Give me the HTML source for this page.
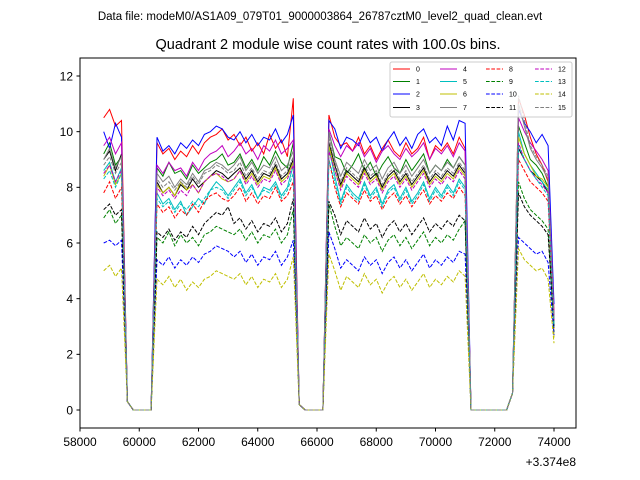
<!DOCTYPE html>
<html><head><meta charset="utf-8"><style>
body{margin:0;background:#fff;}
svg{font-family:"Liberation Sans",sans-serif;display:block;}
</style></head><body>
<svg id="chart" width="640" height="480" viewBox="0 0 640 480">
<rect width="640" height="480" fill="#fff"/>
<text x="320" y="20" font-size="11.5" text-anchor="middle">Data file: modeM0/AS1A09_079T01_9000003864_26787cztM0_level2_quad_clean.evt</text>
<text x="328" y="49" font-size="14.5" text-anchor="middle">Quadrant 2 module wise count rates with 100.0s bins.</text>
<g id="series"></g>
<rect x="80" y="58" width="496" height="370" fill="none" stroke="#000" stroke-width="1"/>
<g id="axes"></g>
<text x="576" y="466" font-size="12" text-anchor="end">+3.374e8</text>
<g id="legend"></g>
</svg>
<script>
const times=[];for(let t=58800;t<=74000;t+=200)times.push(t);
const xTicks=[58000,60000,62000,64000,66000,68000,70000,72000,74000];
const yTicks=[0,2,4,6,8,10,12];
const G1=[0.3,0,0,0,0],G2=[0.2,0,0,0,0],G3=[0,0,0,0,0,0,0,0.6];
const s0=[10.5,10.8,10.2,10.4,...G1,9.6,9.2,9.4,9.0,9.3,9.1,9.5,9.2,9.6,9.8,9.9,10.1,9.7,9.9,9.5,9.8,9.3,9.6,9.2,9.9,9.4,9.7,9.1,11.2,...G2,10.6,9.8,9.5,9.6,9.3,9.8,9.2,9.5,9.0,9.4,9.7,9.3,9.1,9.6,9.2,9.4,9.8,9.0,9.5,9.3,9.6,9.2,9.8,9.4,...G3,11.2,10.6,9.8,9.2,8.8,8.2,3.5];
const s1=[9.2,9.6,8.8,9.1,...G1,8.7,8.4,8.9,8.5,8.6,8.3,8.8,8.5,8.7,8.9,9.0,9.2,8.8,8.9,9.2,8.7,9.0,8.6,9.1,8.8,9.3,8.9,8.7,9.6,...G2,10.0,9.1,9.0,8.5,8.8,9.2,8.6,8.9,8.4,8.8,9.1,8.7,8.5,9.0,8.6,8.9,9.2,8.5,8.8,8.6,9.0,8.7,9.1,8.8,...G3,10.2,9.6,9.0,8.8,8.5,8.0,3.2];
const s2=[10.0,9.4,10.3,9.8,...G1,9.8,9.3,9.5,9.2,9.6,9.4,9.7,9.5,9.9,10.0,10.2,10.1,9.8,9.7,10.0,9.6,9.9,9.5,9.8,9.7,10.1,9.6,9.9,10.6,...G2,10.4,10.1,9.4,9.8,9.7,9.5,10.0,9.6,9.8,9.3,9.7,10.0,9.5,9.8,9.4,9.9,10.1,9.6,9.8,9.5,10.2,9.7,10.4,10.3,...G3,10.8,10.3,10.0,9.6,9.9,9.5,3.8];
const s3=[9.0,9.3,8.6,9.2,...G1,8.2,7.8,8.0,7.7,8.1,7.9,8.3,8.0,8.2,8.4,8.6,8.5,8.3,8.5,8.7,8.3,8.6,8.2,8.5,8.4,8.8,8.3,8.5,9.0,...G2,9.6,8.8,8.1,8.6,8.4,8.2,8.7,8.3,8.5,8.0,8.4,8.6,8.2,8.5,8.1,8.4,8.7,8.2,8.5,8.3,8.6,8.4,8.8,8.5,...G3,9.4,9.0,8.6,8.4,8.2,7.8,3.0];
const s4=[9.5,9.8,9.2,9.6,...G1,8.8,8.5,8.9,8.6,8.7,8.4,8.9,8.6,9.0,9.2,9.3,9.5,9.1,9.3,9.6,9.2,9.4,9.0,9.5,9.3,9.7,9.2,9.4,9.7,...G2,10.1,9.5,9.1,9.5,9.3,9.6,9.1,9.4,8.9,9.3,9.5,9.2,9.0,9.4,9.1,9.3,9.6,9.0,9.4,9.2,9.5,9.1,9.6,9.3,...G3,10.5,10.0,9.6,9.3,9.0,8.6,3.4];
const s5=[8.6,8.9,8.2,8.7,...G1,7.8,7.4,7.6,7.2,7.5,7.0,7.3,7.6,7.4,7.9,8.2,8.0,7.7,8.0,8.3,7.8,8.1,7.6,8.0,7.9,8.2,7.7,8.0,8.8,...G2,9.4,8.4,7.5,8.1,7.8,7.6,8.2,7.7,8.0,7.4,7.9,8.1,7.6,8.0,7.5,7.8,8.2,7.6,8.0,7.7,8.1,7.8,8.3,8.0,...G3,10.0,9.2,8.8,8.5,8.2,7.9,3.1];
const s6=[8.4,8.8,8.1,8.5,...G1,8.1,7.8,8.0,7.7,8.2,7.9,8.1,7.8,8.2,8.4,8.5,8.3,8.2,8.3,8.6,8.2,8.5,8.1,8.4,8.3,8.7,8.2,8.4,8.9,...G2,9.5,8.6,8.0,8.5,8.3,8.1,8.6,8.2,8.4,7.9,8.3,8.5,8.1,8.4,8.0,8.3,8.6,8.1,8.4,8.2,8.5,8.3,8.7,8.4,...G3,9.8,9.2,8.8,8.4,8.3,8.0,2.6];
const s7=[9.0,9.4,8.7,9.1,...G1,8.5,8.2,8.4,8.0,8.3,8.1,8.5,8.2,8.6,8.7,8.9,8.8,8.6,8.8,9.1,8.6,8.9,8.5,8.8,8.7,9.1,8.6,8.8,9.3,...G2,10.0,9.0,8.4,8.9,8.7,8.5,9.0,8.6,8.8,8.3,8.7,8.9,8.5,8.8,8.4,8.7,9.0,8.5,8.8,8.6,8.9,8.7,9.1,8.8,...G3,11.0,10.2,9.4,9.0,8.7,8.3,3.3];
const s8=[7.8,8.2,7.6,8.0,...G1,7.4,7.1,7.3,6.9,7.2,7.0,7.4,7.1,7.5,7.7,7.8,7.6,7.5,7.7,8.0,7.5,7.8,7.4,7.7,7.6,8.0,7.5,7.7,8.2,...G2,9.0,8.0,7.3,7.8,7.6,7.4,7.9,7.5,7.7,7.2,7.6,7.8,7.4,7.7,7.3,7.6,7.9,7.4,7.7,7.5,7.8,7.6,8.0,7.7,...G3,9.0,8.6,8.2,8.0,7.8,7.5,2.9];
const s9=[6.9,7.2,6.7,7.0,...G1,6.2,6.0,6.4,5.9,6.3,6.0,6.2,5.9,6.3,6.4,6.6,6.5,6.4,6.3,6.5,6.1,6.4,6.0,6.3,6.2,6.5,6.0,6.3,7.2,...G2,7.4,6.6,5.9,6.2,6.0,5.8,6.3,6.0,6.2,5.7,6.1,6.3,5.9,6.2,5.8,6.1,6.4,5.9,6.2,6.0,6.3,6.1,6.5,6.8,...G3,8.2,7.6,7.2,7.0,6.8,6.5,2.8];
const s10=[6.0,6.1,5.9,6.1,...G1,5.4,5.2,5.5,5.1,5.4,5.2,5.5,5.3,5.6,5.7,5.9,5.8,5.7,5.5,5.7,5.3,5.6,5.2,5.5,5.4,5.7,5.2,5.5,6.1,...G2,6.4,5.8,5.1,5.4,5.2,5.0,5.5,5.2,5.4,4.9,5.3,5.5,5.1,5.4,5.0,5.3,5.6,5.1,5.4,5.2,5.5,5.3,5.7,5.6,...G3,6.2,6.0,5.8,5.6,5.7,5.3,2.7];
const s11=[7.2,7.4,7.0,7.2,...G1,6.4,6.2,6.5,6.1,6.4,6.2,6.6,6.3,6.7,6.9,7.1,7.0,7.3,6.7,6.9,6.5,6.8,6.4,6.7,6.6,6.9,6.4,6.7,7.6,...G2,7.5,7.0,6.3,6.8,6.6,6.4,6.9,6.5,6.7,6.2,6.6,6.8,6.4,6.7,6.3,6.6,6.9,6.4,6.7,6.5,6.8,6.6,7.0,6.8,...G3,7.8,7.3,7.0,6.8,6.6,6.3,3.0];
const s12=[8.5,8.8,8.2,8.6,...G1,8.0,7.7,7.9,7.6,7.9,7.7,8.1,7.8,8.2,8.4,8.5,8.4,8.2,8.3,8.6,8.1,8.4,8.0,8.3,8.2,8.6,8.1,8.3,8.8,...G2,9.3,8.6,7.9,8.4,8.2,8.0,8.5,8.1,8.3,7.8,8.2,8.4,8.0,8.3,7.9,8.2,8.5,8.0,8.3,8.1,8.4,8.2,8.6,8.3,...G3,9.6,9.0,8.6,8.3,8.1,7.8,3.2];
const s13=[8.3,8.6,8.0,8.5,...G1,7.6,7.3,7.5,7.1,7.4,7.2,7.5,7.3,7.6,7.9,8.0,7.9,7.6,7.9,8.2,7.7,8.0,7.6,7.9,7.8,8.1,7.6,7.9,8.5,...G2,9.0,8.2,7.4,8.0,7.7,7.5,8.1,7.6,7.9,7.3,7.8,8.0,7.5,7.9,7.4,7.7,8.1,7.5,7.9,7.6,8.0,7.7,8.2,7.9,...G3,9.5,9.0,8.6,8.3,8.0,7.7,3.0];
const s14=[5.0,5.2,4.8,5.1,...G1,4.7,4.5,4.8,4.4,4.7,4.3,4.6,4.4,4.7,4.8,5.0,4.9,4.8,4.7,4.9,4.5,4.8,4.4,4.7,4.6,4.9,4.4,4.7,5.5,...G2,5.6,5.0,4.3,4.8,4.6,4.4,4.9,4.5,4.7,4.2,4.6,4.8,4.4,4.7,4.3,4.6,4.9,4.4,4.7,4.5,4.8,4.6,5.0,4.8,...G3,5.8,5.4,5.2,5.0,5.1,4.7,2.4];
const s15=[8.8,9.1,8.5,8.9,...G1,8.3,8.0,8.2,7.9,8.2,8.0,8.4,8.1,8.5,8.6,8.8,8.7,8.5,8.6,8.9,8.4,8.7,8.3,8.6,8.5,8.9,8.4,8.6,9.1,...G2,9.8,8.9,8.2,8.7,8.5,8.3,8.8,8.4,8.6,8.1,8.5,8.7,8.3,8.6,8.2,8.5,8.8,8.3,8.6,8.4,8.7,8.5,8.9,8.6,...G3,11.3,10.4,9.5,9.1,8.8,8.4,3.3];
const seriesData=[s0,s1,s2,s3,s4,s5,s6,s7,s8,s9,s10,s11,s12,s13,s14,s15];
const colors=['#ff0000','#008000','#0000ff','#000000','#bf00bf','#00bfbf','#bfbf00','#808080','#ff0000','#008000','#0000ff','#000000','#bf00bf','#00bfbf','#bfbf00','#808080'];
const NS='http://www.w3.org/2000/svg';
const xs=v=>80+(v-58000)*(474/16000);
const ys=v=>410-v*(334/12);
const sg=document.getElementById('series');
seriesData.forEach((d,k)=>{
  const p=document.createElementNS(NS,'path');
  p.setAttribute('d',d.map((v,i)=>(i?'L':'M')+xs(times[i]).toFixed(1)+','+ys(v).toFixed(1)).join(''));
  p.setAttribute('fill','none');p.setAttribute('stroke',colors[k]);p.setAttribute('stroke-width','1');
  if(k>=8)p.setAttribute('stroke-dasharray','3.7,1.6');
  
  
  sg.appendChild(p);
});
const ax=document.getElementById('axes');
function add(tag,attrs,txt){const e=document.createElementNS(NS,tag);for(const a in attrs)e.setAttribute(a,attrs[a]);if(txt!=null)e.textContent=txt;ax.appendChild(e);return e;}
xTicks.forEach(v=>{
  const l=add('line',{x1:xs(v),x2:xs(v),y1:428,y2:431.5,stroke:'#000'});
  
  
  const t=add('text',{x:xs(v),y:446,'font-size':12,'text-anchor':'middle'},v);
  
  
});
yTicks.forEach(v=>{
  const l=add('line',{x1:76.5,x2:80,y1:ys(v),y2:ys(v),stroke:'#000'});
  
  
  const t=add('text',{x:73,y:ys(v)+4.3,'font-size':12,'text-anchor':'end'},v);
  
  
});
const lg=document.getElementById('legend');
const box=document.createElementNS(NS,'rect');
box.setAttribute('x',390);box.setAttribute('y',62);box.setAttribute('width',182);box.setAttribute('height',55);box.setAttribute('rx',2);
box.setAttribute('fill','#fff');box.setAttribute('fill-opacity','0.8');box.setAttribute('stroke','#ccc');


lg.appendChild(box);
const colX=[393,440,486,535];const rowY=[69,81.5,94,107.5];
for(let k=0;k<16;k++){
  const c=Math.floor(k/4),r=k%4;
  const l=document.createElementNS(NS,'line');
  l.setAttribute('x1',colX[c]);l.setAttribute('x2',colX[c]+17);l.setAttribute('y1',rowY[r]);l.setAttribute('y2',rowY[r]);
  l.setAttribute('stroke',colors[k]);l.setAttribute('stroke-width',1);
  if(k>=8)l.setAttribute('stroke-dasharray','3.7,1.6');
  
  
  lg.appendChild(l);
  const t=document.createElementNS(NS,'text');
  t.setAttribute('x',colX[c]+23);t.setAttribute('y',rowY[r]+2.5);t.setAttribute('font-size',7);
  t.textContent=k;
  
  
  lg.appendChild(t);
}
</script>
</body></html>
